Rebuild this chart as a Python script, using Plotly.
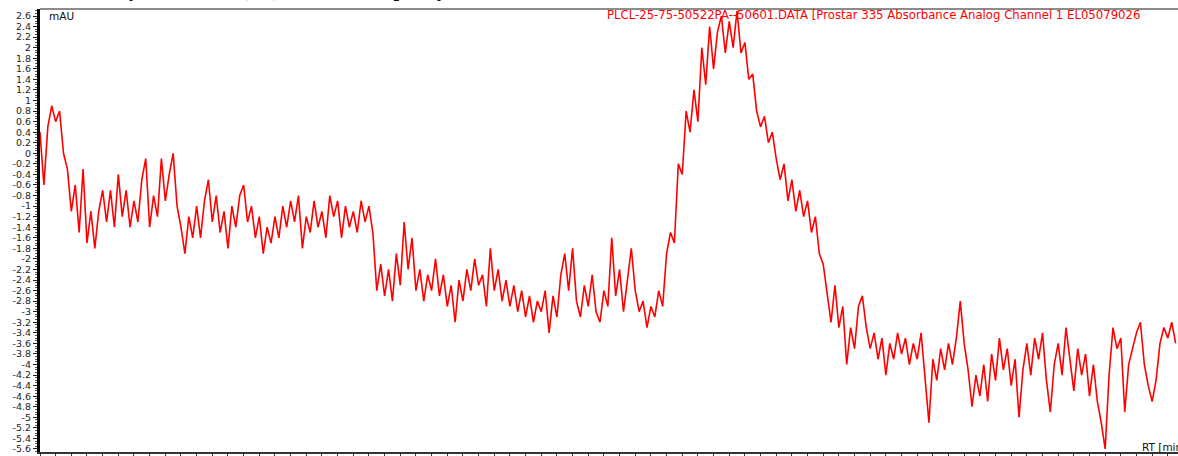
import plotly.graph_objects as go

# ---- data ----
SAMPLE_INTERVAL_MIN = 0.05  # detector sampling interval (min)

absorbance_mAU = [
    # 0-1 min
    0.4, -0.6, 0.5, 0.9, 0.6, 0.8, 0.0, -0.3, -1.1, -0.6,
    -1.5, -0.3, -1.7, -1.1, -1.8, -1.1, -0.7, -1.3, -0.7, -1.4,
    # 1-2
    -0.4, -1.2, -0.7, -1.4, -0.9, -1.3, -0.5, -0.1, -1.4, -0.8,
    -1.2, -0.1, -0.9, -0.4, 0.0, -1.0, -1.4, -1.9, -1.2, -1.6,
    # 2-3
    -1.0, -1.6, -0.9, -0.5, -1.3, -0.8, -1.5, -1.1, -1.8, -1.0,
    -1.4, -0.8, -0.6, -1.3, -1.0, -1.6, -1.2, -1.9, -1.4, -1.7,
    # 3-4
    -1.2, -1.6, -1.0, -1.4, -0.9, -1.3, -0.8, -1.8, -1.2, -1.5,
    -0.9, -1.4, -1.1, -1.6, -0.8, -1.2, -0.9, -1.6, -1.0, -1.4,
    # 4-5
    -1.1, -1.5, -0.9, -1.3, -1.0, -1.5, -2.6, -2.1, -2.7, -2.2,
    -2.8, -1.9, -2.5, -1.3, -2.2, -1.6, -2.6, -2.2, -2.8, -2.3,
    # 5-6
    -2.6, -2.0, -2.7, -2.3, -2.9, -2.5, -3.2, -2.4, -2.8, -2.2,
    -2.6, -2.0, -2.5, -2.3, -2.9, -1.8, -2.6, -2.2, -2.8, -2.4,
    # 6-7
    -2.9, -2.5, -3.0, -2.6, -3.1, -2.7, -3.2, -2.8, -3.0, -2.6,
    -3.4, -2.7, -3.1, -2.3, -1.9, -2.6, -1.8, -2.8, -3.1, -2.5,
    # 7-8
    -2.9, -2.3, -3.0, -3.2, -2.6, -2.9, -1.6, -2.7, -2.2, -3.0,
    -2.4, -1.8, -2.6, -3.0, -2.8, -3.3, -2.9, -3.1, -2.6, -2.9,
    # 8-9
    -1.9, -1.5, -1.7, -0.2, -0.4, 0.8, 0.4, 1.2, 0.6, 2.0,
    1.3, 2.4, 1.6, 2.3, 2.6, 1.9, 2.5, 2.0, 2.7, 1.9,
    # 9-10
    2.1, 1.4, 1.5, 0.8, 0.5, 0.7, 0.2, 0.4, -0.1, -0.5,
    -0.2, -0.9, -0.5, -1.1, -0.7, -1.2, -0.9, -1.5, -1.2, -1.9,
    # 10-11
    -2.1, -2.7, -3.2, -2.5, -3.3, -2.9, -4.0, -3.3, -3.7, -2.9,
    -2.7, -3.3, -3.7, -3.4, -3.9, -3.5, -4.2, -3.6, -3.9, -3.4,
    # 11-12
    -3.8, -3.5, -4.0, -3.6, -3.9, -3.4, -4.3, -5.1, -3.9, -4.3,
    -3.7, -4.1, -3.6, -4.0, -3.5, -2.8, -3.6, -4.1, -4.8, -4.2,
    # 12-13
    -4.6, -4.0, -4.7, -3.8, -4.3, -3.5, -4.1, -3.7, -4.4, -3.9,
    -5.0, -4.1, -3.6, -4.2, -3.5, -3.9, -3.4, -4.3, -4.9, -4.0,
    # 13-14
    -3.6, -4.2, -3.3, -3.9, -4.5, -3.7, -4.2, -3.8, -4.6, -4.0,
    -4.7, -5.1, -5.6, -4.2, -3.3, -3.7, -3.5, -4.9, -4.0, -3.7,
    # 14-14.5
    -3.4, -3.2, -4.0, -4.4, -4.7, -4.3, -3.6, -3.3, -3.5, -3.2,
    -3.6,
]
rt_min = [i * SAMPLE_INTERVAL_MIN for i in range(len(absorbance_mAU))]

Y_TICK_LABELS = [
    "2.6", "2.4", "2.2", "2", "1.8", "1.6", "1.4", "1.2", "1", "0.8",
    "0.6", "0.4", "0.2", "0", "-0.2", "-0.4", "-0.6", "-0.8", "-1", "-1.2",
    "-1.4", "-1.6", "-1.8", "-2", "-2.2", "-2.4", "-2.6", "-2.8", "-3", "-3.2",
    "-3.4", "-3.6", "-3.8", "-4", "-4.2", "-4.4", "-4.6", "-4.8", "-5", "-5.2",
    "-5.4", "-5.6",
]
Y_TICK_VALUES = [float(t) for t in Y_TICK_LABELS]

HEADER = "PLCL-25-75-50522PA--50601.DATA [Prostar 335 Absorbance Analog Channel 1 EL05079026"
Y_UNIT = "mAU"
X_UNIT = "RT [min]"
CUT_TITLE = "Study SEC of the (PA) HPLC trace purity"

# ---- figure ----
fig = go.Figure()
fig.add_trace(go.Scatter(
    x=rt_min, y=absorbance_mAU, mode="lines",
    line=dict(color="#ff0000", width=1.6),
    hoverinfo="skip", showlegend=False,
))

W, H = 1178, 456
ML, MR, MT, MB = 40, 0, 9, 4
PW, PH = W - ML - MR, H - MT - MB
SANS = "DejaVu Sans, Verdana, sans-serif"

fig.update_layout(
    width=W, height=H,
    margin=dict(l=ML, r=MR, t=MT, b=MB, pad=0),
    paper_bgcolor="white", plot_bgcolor="white",
    font=dict(family=SANS, size=10, color="#111"),
    xaxis=dict(
        range=[0, 14.53], showgrid=False, zeroline=False,
        showline=True, linecolor="#333", linewidth=1.5,
        ticks="outside", tickcolor="#333", ticklen=5, tickwidth=1,
        dtick=1, tick0=0, showticklabels=False,
        minor=dict(dtick=0.2, ticks="outside", ticklen=3, tickcolor="#333"),
    ),
    yaxis=dict(
        range=[-5.657, 2.733], showgrid=False, zeroline=False,
        showline=True, linecolor="black", linewidth=3,
        ticks="outside", tickcolor="#222", ticklen=4, tickwidth=1,
        tickvals=Y_TICK_VALUES, ticktext=Y_TICK_LABELS,
        tickfont=dict(size=9.5, color="#222", family=SANS),
        minor=dict(dtick=0.05, ticks="outside", ticklen=2, tickcolor="#555"),
    ),
)

# top frame line
fig.add_shape(type="line", xref="paper", yref="paper", x0=0, x1=1, y0=1, y1=1,
              line=dict(color="#666", width=1.5))

fig.add_annotation(text=Y_UNIT, xref="paper", yref="paper",
                   x=7 / PW, y=1 - 7 / PH,
                   xanchor="left", yanchor="middle", showarrow=False,
                   font=dict(size=10.5, color="#111", family=SANS))
fig.add_annotation(text=HEADER, xref="paper", yref="paper",
                   x=(605 - ML) / PW, y=1 - 6 / PH,
                   xanchor="left", yanchor="middle", showarrow=False,
                   font=dict(size=11.7, color="#ff0000", family=SANS))
fig.add_annotation(text=X_UNIT, xref="paper", yref="paper",
                   x=(1140 - ML) / PW, y=5 / PH,
                   xanchor="left", yanchor="middle", showarrow=False,
                   font=dict(size=10.5, color="#111", family=SANS))
fig.add_annotation(text="<b>" + CUT_TITLE + "</b>", xref="paper", yref="paper",
                   x=(449 - ML) / PW, y=1 + 6 / PH,
                   xanchor="right", yanchor="bottom", showarrow=False,
                   font=dict(size=20, color="black",
                             family="Liberation Serif, Times New Roman, serif"))

fig.write_html("out.html", config={"displayModeBar": False},
               post_script="document.body.style.margin='0';")
